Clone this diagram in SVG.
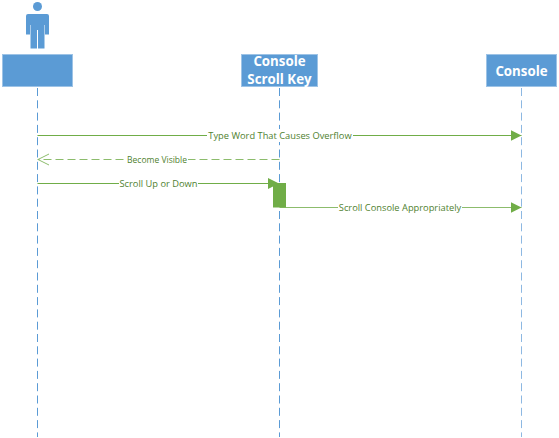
<svg xmlns="http://www.w3.org/2000/svg" width="559" height="438" viewBox="0 0 559 438">
<style>
.box{fill:#5b9bd5;stroke:#9dc3e6;stroke-width:1}
.life{stroke:#5b9bd5;stroke-width:1;stroke-dasharray:8 4.300;fill:none}
.msg{stroke:#70ad47;stroke-width:1;fill:none}
.t{font-family:"Open Sans","Liberation Sans",sans-serif;font-size:13.300px;font-weight:700;fill:#fff;text-anchor:middle}
.l{font-family:"Open Sans","Liberation Sans",sans-serif;font-size:9.300px;fill:#4f7f2f;text-anchor:middle}
.lb{fill:#fff;stroke:none}
</style>
<defs>
<marker id="solid" markerWidth="12" markerHeight="12" refX="11" refY="5.500" orient="auto" markerUnits="userSpaceOnUse"><path d="M0,0 L11,5.500 L0,11 Z" fill="#70ad47"/></marker>
<marker id="open" markerWidth="13" markerHeight="13" refX="11.500" refY="6" orient="auto" markerUnits="userSpaceOnUse"><path d="M0,0.500 L11,6 L0,11.500" fill="none" stroke="#8cbc6c" stroke-width="1"/></marker>
</defs>
<g id="connectors">
<line class="life" x1="37.500" y1="88" x2="37.500" y2="437"/>
<line class="life" x1="279.500" y1="88" x2="279.500" y2="437"/>
<line class="life" x1="521.500" y1="88" x2="521.500" y2="437" style="stroke:#8db8e2"/>
<path class="msg" d="M37.500,135.500 H521.500" marker-end="url(#solid)"/>
<path class="msg" d="M279.500,159.500 H37.500" stroke-dasharray="8 4" style="stroke:#8cbc6c" marker-end="url(#open)"/>
<path class="msg" d="M37.500,183.500 H279" marker-end="url(#solid)"/>
<path class="msg" d="M279.500,207.500 H521.500" marker-end="url(#solid)" style="stroke:#8cbc6c"/>
<rect class="lb" x="207" y="129" width="146" height="13"/>
<text class="l" x="280" y="138.500">Type Word That Causes Overflow</text>
<rect class="lb" x="126" y="153" width="62" height="13"/>
<text class="l" x="157" y="162.500" textLength="60" lengthAdjust="spacingAndGlyphs">Become Visible</text>
<rect class="lb" x="119" y="177" width="79" height="13"/>
<text class="l" x="158.500" y="186.500">Scroll Up or Down</text>
<rect class="lb" x="338" y="201" width="124" height="13"/>
<text class="l" x="400" y="210.500">Scroll Console Appropriately</text>
</g>
<g id="actor">
<circle cx="37.500" cy="6.500" r="4.500" fill="#5b9bd5"/>
<path d="M28,14 H47 Q49,14 49,16 V34.500 H45 V25 H44.500 V48.500 H38 V30 H37 V48.500 H30.500 V25 H30 V34.500 H26 V16 Q26,14 28,14 Z" fill="#5b9bd5"/>
<rect class="box" x="2.500" y="54.500" width="70" height="32"/>
</g>
<g id="scrollkey">
<rect class="box" x="241.500" y="54.500" width="76" height="32"/>
<text class="t" x="279.500" y="65.500">Console</text>
<text class="t" x="279.500" y="84">Scroll Key</text>
</g>
<g id="console">
<rect class="box" x="486.500" y="54.500" width="70" height="32"/>
<text class="t" x="521.500" y="76">Console</text>
</g>
<g id="activation">
<rect x="273" y="183" width="13" height="24.500" fill="#70ad47"/>
</g>
</svg>
